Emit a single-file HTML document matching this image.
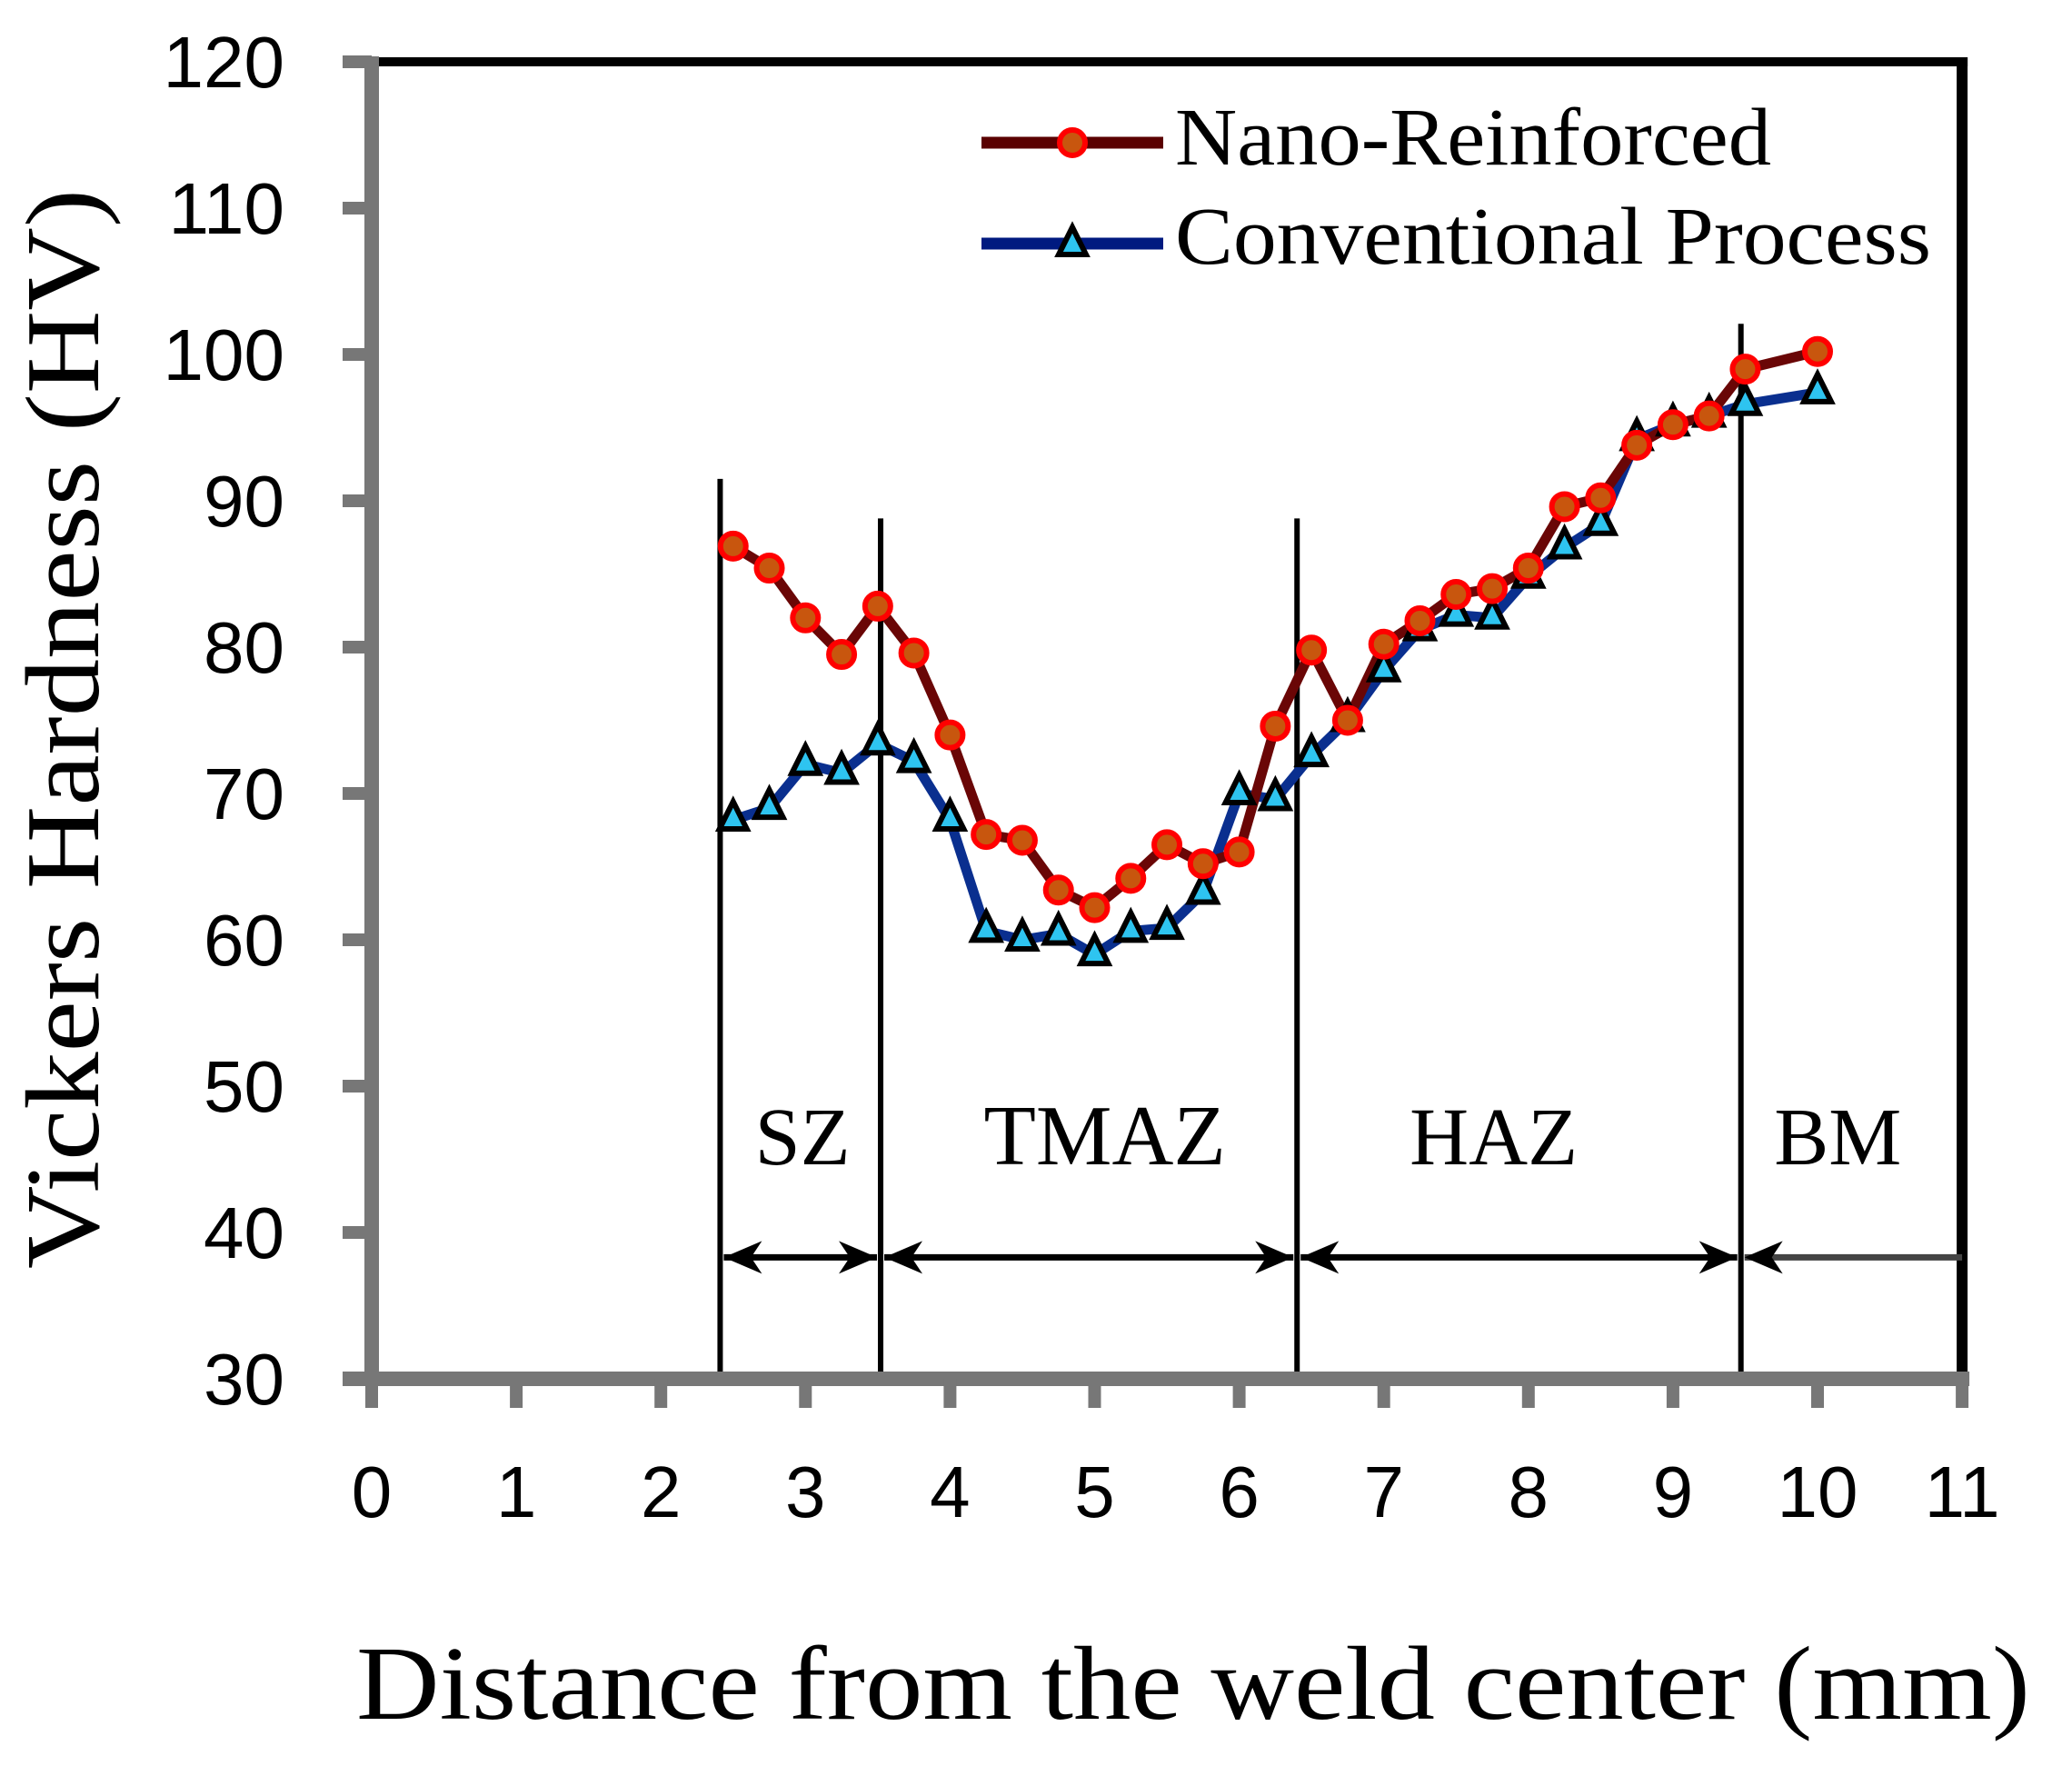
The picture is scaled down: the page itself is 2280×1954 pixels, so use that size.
<!DOCTYPE html>
<html><head><meta charset="utf-8"><style>
html,body{margin:0;padding:0;background:#fff;width:2280px;height:1954px;overflow:hidden}
svg{display:block}
</style></head><body>
<svg id="chart" width="2280" height="1954" viewBox="0 0 2280 1954" xmlns="http://www.w3.org/2000/svg"></svg>
<script>
const xValues=[2.5,2.75,3,3.25,3.5,3.75,4,4.25,4.5,4.75,5,5.25,5.5,5.75,6,6.25,6.5,6.75,7,7.25,7.5,7.75,8,8.25,8.5,8.75,9,9.25,9.5,10];
const nanoValues=[86.9,85.4,82,79.5,82.8,79.6,74,67.2,66.8,63.4,62.2,64.2,66.5,65.2,66,74.6,79.8,75,80.2,81.8,83.6,84,85.4,89.6,90.2,93.8,95.2,95.8,99,100.2];
const convValues=[68.2,69,72,71.4,73.4,72.2,68.2,60.6,60,60.4,59,60.6,60.8,63.2,70,69.6,72.6,75,78.4,81.2,82.2,82,84.8,86.8,88.4,94.2,95.2,95.8,96.6,97.4];
const xTicks=[0,1,2,3,4,5,6,7,8,9,10,11];
const yTicks=[30,40,50,60,70,80,90,100,110,120];
const zoneBounds=[2.41,3.52,6.4,9.47];
const zoneTops=[91.5,88.8,88.8,102.1];
const zoneNames=["SZ","TMAZ","HAZ","BM"];
const zoneLabelX=[2.98,5.07,7.76,10.14];

const NS="http://www.w3.org/2000/svg";
const svg=document.getElementById('chart');
const X=v=>409+(v-0)*159.1;
const Y=v=>1517-(v-30)*16.1;
function el(tag,attrs,parent){const e=document.createElementNS(NS,tag);for(const k in attrs)e.setAttribute(k,attrs[k]);(parent||svg).appendChild(e);return e;}

const ft=el('line',{x1:X(0),y1:Y(120),x2:X(11)+6,y2:Y(120),stroke:'#000','stroke-width':10});

const fr=el('line',{x1:X(11),y1:Y(120)-5,x2:X(11),y2:Y(30),stroke:'#000','stroke-width':12});


zoneBounds.forEach((b,i)=>{
  const l=el('line',{x1:X(b),y1:Y(zoneTops[i]),x2:X(b),y2:Y(30),stroke:'#000','stroke-width':6});
  
  
});

const ya=el('line',{x1:X(0),y1:Y(120)-6,x2:X(0),y2:Y(30)+8,stroke:'#777','stroke-width':16});

const xa=el('line',{x1:X(0)-32,y1:Y(30),x2:X(11)+8,y2:Y(30),stroke:'#777','stroke-width':16});


yTicks.forEach(t=>{
  const tk=el('line',{x1:X(0)-32,y1:Y(t),x2:X(0),y2:Y(t),stroke:'#777','stroke-width':14});
  
  
  const tx=el('text',{x:313,y:Y(t)+28,'text-anchor':'end','font-family':'Liberation Sans, sans-serif','font-size':80,fill:'#000'});
  tx.textContent=t;
  
  
});
xTicks.forEach(t=>{
  const tk=el('line',{x1:X(t),y1:Y(30),x2:X(t),y2:Y(30)+32,stroke:'#777','stroke-width':14});
  
  
  const tx=el('text',{x:X(t),y:1669,'text-anchor':'middle','font-family':'Liberation Sans, sans-serif','font-size':80,fill:'#000'});
  tx.textContent=t;
  
  
});

const arrowY=Y(38.3);
function head(x,dir){const p=el('path',{d:`M${x} ${arrowY} L${x+dir*42} ${arrowY-18} L${x+dir*30} ${arrowY} L${x+dir*42} ${arrowY+18} Z`,fill:'#000'});return p;}
zoneNames.forEach((n,i)=>{
  const tx=el('text',{x:X(zoneLabelX[i]),y:1281,'text-anchor':'middle','font-family':'Liberation Serif, serif','font-size':n==='TMAZ'?94:90,fill:'#000'});
  tx.textContent=n;
  
  
  const x1=X(zoneBounds[i])+4, x2=(i<3?X(zoneBounds[i+1])-4:X(11));
  const ln=el('line',{x1:x1,y1:arrowY,x2:x2,y2:arrowY,stroke:i<3?'#000':'#444','stroke-width':7});
  
  
  const h1=head(x1,1);
  
  
  if(i<3){const h2=head(x2,-1);
    
    }
});

function series(vals,lineCol,name){
  const pts=xValues.map((x,i)=>X(x)+','+Y(vals[i])).join(' ');
  const pl=el('polyline',{points:pts,fill:'none',stroke:lineCol,'stroke-width':11,'stroke-linejoin':'round'});
  
  
}
series(convValues,'#0a2f8f','conventional');
series(nanoValues,'#6a0606','nano');
xValues.forEach((x,i)=>{
  const cx=X(x),cy=Y(convValues[i]);
  const t=el('path',{d:`M${cx} ${cy-20} L${cx+15} ${cy+10} L${cx-15} ${cy+10} Z`,fill:'#2ec4f0',stroke:'#000','stroke-width':6,'stroke-linejoin':'miter'});
  
  
});
xValues.forEach((x,i)=>{
  const c=el('circle',{cx:X(x),cy:Y(nanoValues[i]),r:14,fill:'#c8560e',stroke:'#f00','stroke-width':6});
  
  
});

const lg=el('g',{});


const l1=el('line',{x1:1080,y1:157,x2:1280,y2:157,stroke:'#5a0000','stroke-width':13},lg);

const c1=el('circle',{cx:1180,cy:157,r:14,fill:'#c8560e',stroke:'#f00','stroke-width':6},lg);

const t1=el('text',{x:1293,y:181,'font-family':'Liberation Serif, serif','font-size':90,fill:'#000',textLength:656,lengthAdjust:'spacingAndGlyphs'},lg);
t1.textContent='Nano-Reinforced';

const l2=el('line',{x1:1080,y1:268,x2:1280,y2:268,stroke:'#001a80','stroke-width':13},lg);

const p2=el('path',{d:'M1180 250 L1195 280 L1165 280 Z',fill:'#2ec4f0',stroke:'#000','stroke-width':6},lg);

const t2=el('text',{x:1293,y:290,'font-family':'Liberation Serif, serif','font-size':90,fill:'#000',textLength:832,lengthAdjust:'spacingAndGlyphs'},lg);
t2.textContent='Conventional Process';


const xt=el('text',{x:392,y:1891,'font-family':'Liberation Serif, serif','font-size':116,fill:'#000',textLength:1842,lengthAdjust:'spacingAndGlyphs'});
xt.textContent='Distance from the weld center (mm)';

const yt=el('text',{x:0,y:0,'font-family':'Liberation Serif, serif','font-size':116,fill:'#000',textLength:1188,lengthAdjust:'spacingAndGlyphs',transform:'translate(108,1396) rotate(-90)'});
yt.textContent='Vickers Hardness (HV)';

</script>
</body></html>
